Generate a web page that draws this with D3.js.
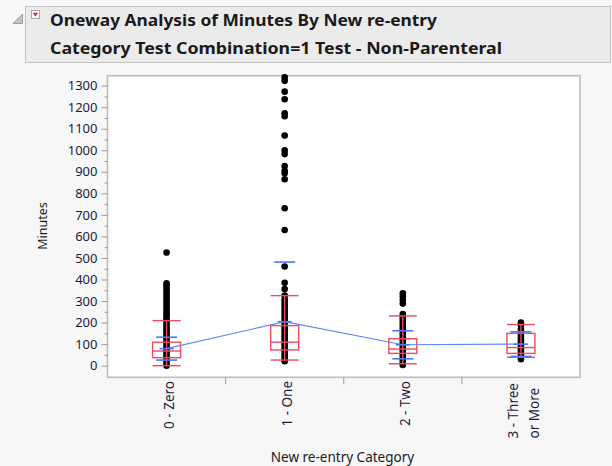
<!DOCTYPE html>
<html>
<head>
<meta charset="utf-8">
<script src="https://cdn.jsdelivr.net/npm/d3@7"></script>
<style>
  body { margin: 0; background: #f7f7f7; }
  svg { display: block; }
  text { font-family: "Noto Sans", "Open Sans", sans-serif; }
</style>
</head>
<body>
<svg id="chart" width="612" height="466"></svg>
<script>
// categories and labels
const categories = ["0 - Zero", "1 - One", "2 - Two", "3 - Three or More"];
const categoryLabels = [["0 - Zero"], ["1 - One"], ["2 - Two"], ["3 - Three", "or More"]];

// raw minutes per category
const zeroPts = [525, 382, 372, 360, 348, 336, 324, 312, 300, 288, 276, 264, 252, 240, 228, 216, 204, 192, 180, 168, 156, 144, 132, 120, 108, 96, 84, 72, 60, 48, 36, 24, 12, 0];
const onePts = [1338, 1322, 1272, 1237, 1172, 1158, 1068, 1000, 982, 927, 905, 893, 865, 731, 630, 460, 385, 356, 325, 307, 297, 285, 273, 261, 249, 237, 225, 213, 201, 189, 177, 165, 153, 141, 129, 117, 105, 93, 81, 69, 57, 45, 33, 21];
const twoPts = [336, 322, 305, 288, 240, 228, 216, 204, 192, 180, 168, 156, 144, 132, 120, 108, 96, 84, 72, 60, 48, 36, 24, 12, 3];
const threePts = [200, 186, 168, 152, 138, 124, 112, 100, 88, 76, 64, 52, 40, 30];
const points = [zeroPts, onePts, twoPts, threePts];

// quantile box summaries
const q10 = [0, 26, 9, 39];
const q25 = [37, 73, 57, 57];
const median = [68, 109, 77, 84];
const q75 = [109, 186, 125, 150];
const q90 = [209, 325, 231, 191];

// means and std devs
const means = [79, 204, 97, 100];
const stdDevs = [53, 277, 65, 57];

// y ticks
const yMajor = d3.range(0, 1301, 100);
const yMinor = d3.range(50, 1300, 100);

const svg = d3.select("#chart");
const red = "#ec4c5e", blue = "#4a78ee";

// header box
svg.append("rect").attr("x", 25.5).attr("y", 6.5).attr("width", 585).attr("height", 56)
  .attr("fill", "#ebebeb").attr("stroke", "#c3c3c3");
svg.append("polygon").attr("points", "13,23.5 22.5,23.5 22.5,14")
  .attr("fill", "#c4c4c4").attr("stroke", "#8a8a8a").attr("stroke-width", 0.8);
svg.append("rect").attr("x", 31.5).attr("y", 10.5).attr("width", 8).attr("height", 8)
  .attr("fill", "#fff").attr("stroke", "#a8a8a8");
svg.append("polygon").attr("points", "32.8,12.8 38.2,12.8 35.5,16.4").attr("fill", "#d8202a");

svg.append("text").attr("x", 50).attr("y", 26)
  .attr("font-size", 16.5).attr("font-weight", "bold").attr("fill", "#1a1a1a")
  .attr("textLength", 387).attr("lengthAdjust", "spacingAndGlyphs")
  .text("Oneway Analysis of Minutes By New re-entry");
svg.append("text").attr("x", 50).attr("y", 54)
  .attr("font-size", 16.5).attr("font-weight", "bold").attr("fill", "#1a1a1a")
  .attr("textLength", 452).attr("lengthAdjust", "spacingAndGlyphs")
  .text("Category Test Combination=1 Test - Non-Parenteral");

// scales
const plotL = 107.5, plotR = 580, plotT = 75.7, plotB = 377.3;
const y = d3.scaleLinear().domain([-54, 1346]).range([plotB, plotT]);
const x = d3.scaleBand().domain(categories).range([plotL, plotR]);
const cx = i => x(categories[i]) + x.bandwidth() / 2;

// plot frame
svg.append("rect").attr("x", plotL).attr("y", plotT).attr("width", plotR - plotL).attr("height", plotB - plotT)
  .attr("fill", "#fff").attr("stroke", "#bdbdbd").attr("stroke-width", 1.6);

// y axis
const gy = svg.append("g").attr("transform", `translate(${plotL},0)`)
  .call(d3.axisLeft(y).tickValues(yMajor).tickSize(6).tickPadding(4).tickFormat(d3.format("d")));
gy.select(".domain").remove();
gy.selectAll(".tick line").attr("stroke", "#9a9a9a");
gy.selectAll(".tick text").attr("font-size", 13).attr("fill", "#1c1c3a")
  .attr("font-family", "'Noto Sans', sans-serif");
const gyMinor = svg.append("g").attr("transform", `translate(${plotL},0)`)
  .call(d3.axisLeft(y).tickValues(yMinor).tickSize(3).tickFormat(""));
gyMinor.select(".domain").remove();
gyMinor.selectAll(".tick line").attr("stroke", "#9a9a9a");

svg.append("text").attr("transform", "translate(47,226) rotate(-90)")
  .attr("text-anchor", "middle").attr("font-size", 12.5).attr("fill", "#1a1a1a").text("Minutes");

// x axis separators
svg.selectAll("line.sep").data(categories.slice(1)).join("line").attr("class", "sep")
  .attr("x1", d => x(d)).attr("x2", d => x(d)).attr("y1", plotB).attr("y2", plotB + 7)
  .attr("stroke", "#9a9a9a");

// x labels
categoryLabels.forEach((lines, i) => {
  if (lines.length === 1) {
    svg.append("text").attr("transform", `translate(${cx(i) + 7},381) rotate(-90)`)
      .attr("text-anchor", "end").attr("font-size", 13.5).attr("fill", "#1c1c3a").text(lines[0]);
  } else {
    const first = svg.append("text").attr("font-size", 13.5).attr("fill", "#1c1c3a").text(lines[0]);
    const len = first.node().getComputedTextLength();
    const ys = 383 + len;
    first.attr("transform", `translate(${cx(i) - 3},${ys}) rotate(-90)`);
    svg.append("text").attr("font-size", 13.5).attr("fill", "#1c1c3a").text(lines[1])
      .attr("transform", `translate(${cx(i) + 18.5},${ys}) rotate(-90)`);
  }
});

svg.append("text").attr("x", 342.5).attr("y", 462).attr("text-anchor", "middle")
  .attr("font-size", 13.5).attr("fill", "#1a1a1a").text("New re-entry Category");

// points
const plot = svg.append("g");
points.forEach((pts, i) => {
  plot.selectAll(null).data(pts).join("circle")
    .attr("cx", cx(i)).attr("cy", d => y(d)).attr("r", 3.3).attr("fill", "#000");
});

// quantile boxes
const bw = 28, ww = 28;
categories.forEach((c, i) => {
  const g = svg.append("g").attr("stroke", red).attr("stroke-width", 1.4).attr("fill", "none");
  g.append("line").attr("x1", cx(i)).attr("x2", cx(i)).attr("y1", y(q10[i])).attr("y2", y(q90[i]));
  g.append("rect").attr("x", cx(i) - bw / 2).attr("width", bw)
    .attr("y", y(q75[i])).attr("height", y(q25[i]) - y(q75[i]));
  [q10[i], median[i], q90[i]].forEach(v => {
    g.append("line").attr("x1", cx(i) - ww / 2).attr("x2", cx(i) + ww / 2).attr("y1", y(v)).attr("y2", y(v));
  });
});

// means connect line and std dev marks
svg.append("path").datum(means)
  .attr("d", d3.line().x((d, i) => cx(i)).y(d => y(d)))
  .attr("fill", "none").attr("stroke", "#5d8af2").attr("stroke-width", 1.2);
categories.forEach((c, i) => {
  const g = svg.append("g").attr("stroke", blue).attr("stroke-width", 1.6);
  [means[i] + stdDevs[i], means[i] - stdDevs[i]].forEach(v => {
    if (y(v) > plotB || y(v) < plotT) return;
    g.append("line").attr("x1", cx(i) - 10.5).attr("x2", cx(i) + 10.5).attr("y1", y(v)).attr("y2", y(v));
  });
  g.append("line").attr("x1", cx(i) - 7).attr("x2", cx(i) + 7).attr("y1", y(means[i])).attr("y2", y(means[i]));
});
</script>
</body>
</html>
